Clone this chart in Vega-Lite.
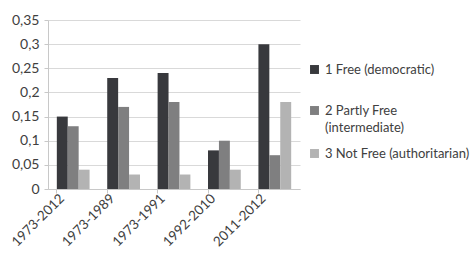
{
  "$schema": "https://vega.github.io/schema/vega-lite/v6.json",
  "autosize": "none",
  "padding": {"left": 48, "top": 20, "right": 173, "bottom": 68},
  "width": 252,
  "height": 169,
  "background": "white",
  "data": {"values": [
    {"period": "1973-2012", "type": "1 Free (democratic)", "value": 0.15},
    {"period": "1973-2012", "type": "2 Partly Free (intermediate)", "value": 0.13},
    {"period": "1973-2012", "type": "3 Not Free (authoritarian)", "value": 0.04},
    {"period": "1973-1989", "type": "1 Free (democratic)", "value": 0.23},
    {"period": "1973-1989", "type": "2 Partly Free (intermediate)", "value": 0.17},
    {"period": "1973-1989", "type": "3 Not Free (authoritarian)", "value": 0.03},
    {"period": "1973-1991", "type": "1 Free (democratic)", "value": 0.24},
    {"period": "1973-1991", "type": "2 Partly Free (intermediate)", "value": 0.18},
    {"period": "1973-1991", "type": "3 Not Free (authoritarian)", "value": 0.03},
    {"period": "1992-2010", "type": "1 Free (democratic)", "value": 0.08},
    {"period": "1992-2010", "type": "2 Partly Free (intermediate)", "value": 0.10},
    {"period": "1992-2010", "type": "3 Not Free (authoritarian)", "value": 0.04},
    {"period": "2011-2012", "type": "1 Free (democratic)", "value": 0.30},
    {"period": "2011-2012", "type": "2 Partly Free (intermediate)", "value": 0.07},
    {"period": "2011-2012", "type": "3 Not Free (authoritarian)", "value": 0.18}
  ]},
  "mark": {"type": "bar"},
  "encoding": {
    "x": {
      "field": "period", "type": "nominal", "sort": null, "title": null,
      "scale": {"paddingInner": 0.35, "paddingOuter": 0.175},
      "axis": {
        "bandPosition": 0,
        "labelAngle": -45,
        "labelAlign": "right",
        "labelBaseline": "middle",
        "labelOffset": -11,
        "labelPadding": 3,
        "labelFont": "Lato",
        "labelFontSize": 13.5,
        "labelColor": "#404040",
        "domainColor": "#c8c8c8",
        "tickColor": "#c8c8c8",
        "tickSize": 4,
        "grid": false
      }
    },
    "xOffset": {"field": "type", "type": "nominal", "scale": {"paddingInner": 0}},
    "y": {
      "field": "value", "type": "quantitative", "title": null,
      "scale": {"domain": [0, 0.35], "nice": false},
      "axis": {
        "values": [0, 0.05, 0.1, 0.15, 0.2, 0.25, 0.3, 0.35],
        "labelExpr": "replace(format(datum.value, '.2~f'), '.', ',')",
        "labelFont": "Lato",
        "labelFontSize": 14,
        "labelColor": "#404040",
        "labelPadding": 5,
        "domainColor": "#c8c8c8",
        "tickColor": "#c8c8c8",
        "tickSize": 4,
        "gridColor": "#d9d9d9"
      }
    },
    "color": {
      "field": "type", "type": "nominal", "title": null,
      "scale": {"range": ["#38393d", "#7f7f80", "#b3b3b3"]},
      "legend": {
        "orient": "none",
        "legendX": 260,
        "legendY": 43,
        "symbolType": "square",
        "symbolSize": 80,
        "symbolStrokeWidth": 0,
        "symbolOffset": 0,
        "labelFont": "Lato",
        "labelFontSize": 13,
        "labelColor": "#404040",
        "labelLimit": 200,
        "labelOffset": 4,
        "rowPadding": 12,
        "labelExpr": "datum.label == '2 Partly Free (intermediate)' ? ['2 Partly Free', '(intermediate)'] : datum.label == '1 Free (democratic)' ? ['1 Free (democratic)', ''] : datum.label",
        "encode": {"labels": {"update": {"lineHeight": {"signal": "datum.value == '1 Free (democratic)' ? 15 : 17"}}}}
      }
    }
  },
  "config": {"view": {"stroke": null}}
}
